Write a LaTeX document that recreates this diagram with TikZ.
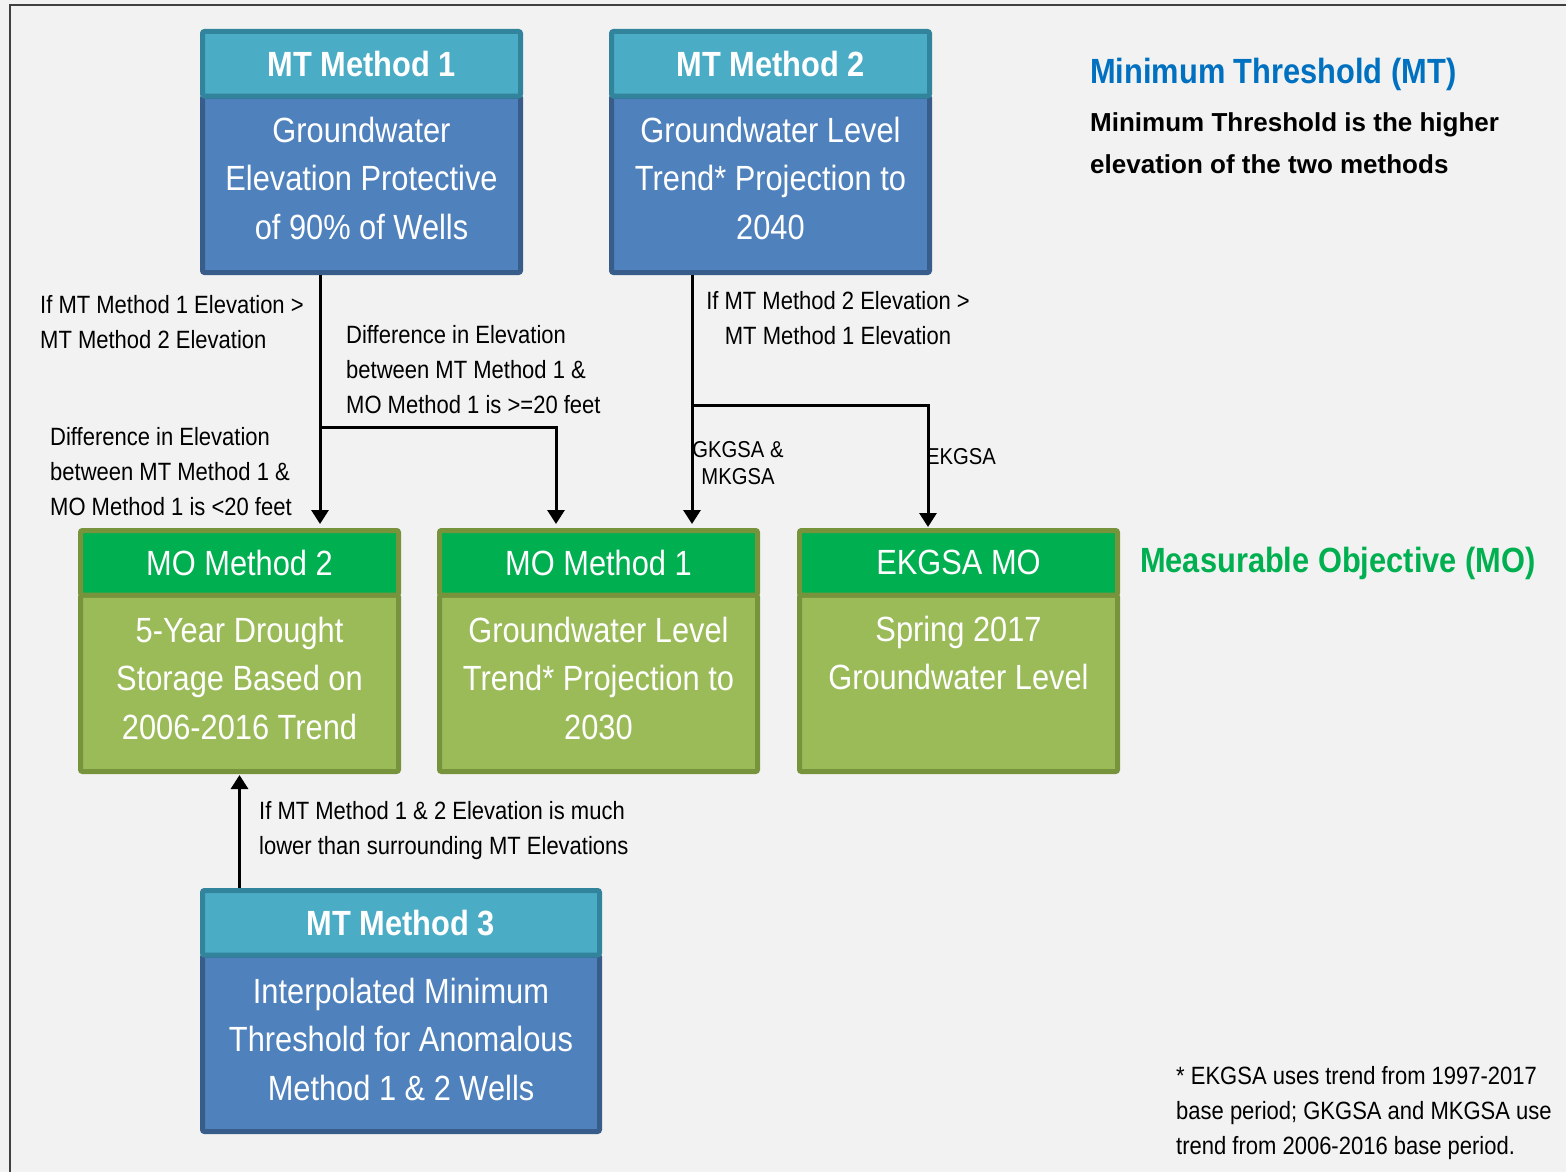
\documentclass[tikz,border=0pt]{standalone}
\usepackage{fontspec}
\setmainfont{Liberation Sans}[FakeStretch=0.88]
\newfontfamily\widesans{Liberation Sans}
\usetikzlibrary{arrows.meta}
\definecolor{bg}{HTML}{F2F2F2}
\definecolor{frameC}{HTML}{404040}
\definecolor{tealF}{HTML}{4BACC6}
\definecolor{tealD}{HTML}{31849B}
\definecolor{blueF}{HTML}{4F81BD}
\definecolor{blueD}{HTML}{385D8A}
\definecolor{greenF}{HTML}{00B050}
\definecolor{oliveF}{HTML}{9BBB59}
\definecolor{oliveD}{HTML}{77933C}
\definecolor{titleBlue}{HTML}{0070C0}
\begin{document}
\begin{tikzpicture}[x=1pt,y=-1pt,
  boxbase/.style={draw, line width=5pt, rounded corners=2pt, inner sep=0pt, text=white, minimum width=318pt},
  mthdr/.style={boxbase, fill=tealF, draw=tealD, minimum height=64.5pt, font=\fontsize{35}{42}\selectfont\bfseries},
  mtbody/.style={boxbase, fill=blueF, draw=blueD, minimum height=176.5pt},
  mohdr/.style={boxbase, fill=greenF, draw=oliveD, minimum height=64.5pt, font=\fontsize{35}{42}\selectfont},
  mobody/.style={boxbase, fill=oliveF, draw=oliveD, minimum height=176.5pt},
  bodytxt/.style={text=white, align=center, inner sep=0pt, font=\fontsize{35}{48.5}\selectfont},
  lbl/.style={inner sep=0pt, align=left, anchor=west, font=\fontsize{25}{35}\selectfont},
  arr/.style={line width=3pt, -{Triangle[width=17pt,length=14pt]}, shorten >=4pt}
]
\fill[bg] (0,0) rectangle (1566,1172);
\useasboundingbox (0,0) rectangle (1566,1172);
\draw[frameC, line width=2.5pt] (10,1172) -- (10,5) -- (1566,5);

% MT Method 1
\node[mtbody] (mt1b) at (361.5,184.25) {};
\node[mthdr] (mt1h) at (361.5,63.75) {MT Method 1};
\node[bodytxt] (mt1t) at (361.5,178) {Groundwater\\Elevation Protective\\of 90\% of Wells};

% MT Method 2
\node[mtbody] (mt2b) at (770.5,184.25) {};
\node[mthdr] (mt2h) at (770.5,63.75) {MT Method 2};
\node[bodytxt] (mt2t) at (770.5,178) {Groundwater Level\\Trend* Projection to\\2040};

% MO Method 2
\node[mobody] (mo2b) at (239.5,683.25) {};
\node[mohdr] (mo2h) at (239.5,562.75) {MO Method 2};
\node[bodytxt] (mo2t) at (239.5,678) {5-Year Drought\\Storage Based on\\2006-2016 Trend};

% MO Method 1
\node[mobody] (mo1b) at (598.5,683.25) {};
\node[mohdr] (mo1h) at (598.5,562.75) {MO Method 1};
\node[bodytxt] (mo1t) at (598.5,678) {Groundwater Level\\Trend* Projection to\\2030};

% EKGSA MO
\node[mobody] (ekb) at (958.5,683.25) {};
\node[mohdr] (ekh) at (958.5,562.75) {EKGSA MO};
\node[bodytxt] (ekt) at (958.5,653) {Spring 2017\\Groundwater Level};

% MT Method 3
\node[mtbody, minimum width=397pt] (mt3b) at (401,1043.25) {};
\node[mthdr, minimum width=397pt] (mt3h) at (401,922.75) {MT Method 3};
\node[bodytxt] (mt3t) at (401,1039) {Interpolated Minimum\\Threshold for Anomalous\\Method 1 \& 2 Wells};

% junctions
\coordinate (j1) at (320,427);
\coordinate (j1r) at (556,427);
\coordinate (j2) at (692,405);
\coordinate (j2r) at (928,405);

% connectors
\draw[arr] (mt1b.south -| j1) -- (mo2h.north -| j1);
\draw[arr] (j1) -- (j1r) -- (mo1h.north -| j1r);
\draw[arr] (mt2b.south -| j2) -- (mo1h.north -| j2);
\draw[arr, shorten >=1pt] (j2) -- (j2r) -- (ekh.north -| j2r);
\draw[arr, shorten >=1pt] (mt3h.north -| mo2b.south) -- (mo2b.south);

% labels
\node[lbl] (l1) at (40,322.5) {If MT Method 1 Elevation >\\MT Method 2 Elevation};
\node[lbl] (l2) at (346,369.5) {Difference in Elevation\\between MT Method 1 \&\\MO Method 1 is >=20 feet};
\node[lbl] (l3) at (50,472) {Difference in Elevation\\between MT Method 1 \&\\MO Method 1 is <20 feet};
\node[lbl, align=center, anchor=center] (l4) at (838,318.5) {If MT Method 2 Elevation >\\MT Method 1 Elevation};
\node[lbl, align=center, anchor=center, font=\fontsize{23}{27}\selectfont] (l5) at (738,463.5) {GKGSA \&\\MKGSA};
\node[lbl, font=\fontsize{23}{27}\selectfont] (l6) at (926,457) {EKGSA};
\node[lbl] (l7) at (259,830.5) {If MT Method 1 \& 2 Elevation is much\\lower than surrounding MT Elevations};

% titles
\node[lbl, text=titleBlue, font=\fontsize{35}{42}\selectfont\bfseries] (t1) at (1090,74) {Minimum Threshold (MT)};
\node[lbl, font=\widesans\fontsize{26}{42}\selectfont\bfseries] (t2) at (1090,143.5) {Minimum Threshold is the higher\\elevation of the two methods};
\node[lbl, text=greenF, font=\fontsize{35}{42}\selectfont\bfseries] (t3) at (1140,563) {Measurable Objective (MO)};
\node[lbl] (fn) at (1176,1113) {* EKGSA uses trend from 1997-2017\\base period; GKGSA and MKGSA use\\trend from 2006-2016 base period.};
\end{tikzpicture}
\end{document}
